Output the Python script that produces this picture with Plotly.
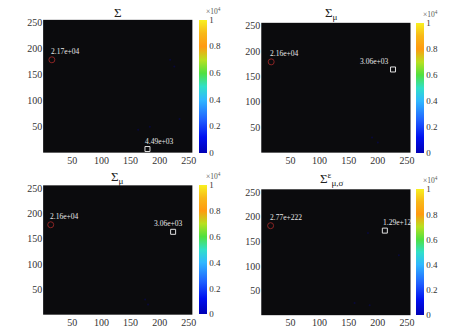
import plotly.graph_objects as go

W, H = 474, 334

titles = ["Σ", "Σ<sub>μ</sub>", "Σ<sub>μ</sub>", "Σ<sup>ε</sup><sub>μ,σ</sub>"]
# peak (red circle) positions and labels
peak_x = [15, 17, 13, 16]
peak_y = [179, 179, 178, 182]
peak_lbl = ["2.17e+04", "2.16e+04", "2.16e+04", "2.77e+222"]
# second marker (white square) positions and labels
sec_x = [179, 226, 223, 212]
sec_y = [7, 164, 164, 172]
sec_lbl = ["4.49e+03", "3.06e+03", "3.06e+03", "1.29e+12"]
# faint background points (values relative to 1e4 colour scale)
faint_x = [[218, 225, 234, 183, 163], [190, 200], [175, 180], [183, 236, 160, 186]]
faint_y = [[179, 166, 65, 50, 44], [30, 20], [30, 20], [167, 122, 25, 20]]
faint_v = [[0.02, 0.02, 0.02, 0.02, 0.02], [0.02, 0.02], [0.02, 0.02], [0.02, 0.02, 0.02, 0.02]]

tick_vals = [50, 100, 150, 200, 250]
cb_vals = [0, 0.2, 0.4, 0.6, 0.8, 1]
cb_text = ["0", "0.2", "0.4", "0.6", "0.8", "1"]

# pixel layouts: (x0, x1, y0top, y1bottom) for plot and colorbar
plots = [(43.5, 194, 17, 151), (263.5, 414, 20, 151), (43.5, 194, 184, 314.5), (263.5, 414, 188, 315)]
cbars = [(201, 17, 151), (420, 20, 151), (201, 184, 314), (420, 188, 315)]
title_pos = [(119, 10), (334, 11), (119, 176), (335, 178)]
peak_txt_shift = [(-3, -8), (-3, -8), (-3, -8), (-3, -8)]
sec_txt_anchor = ["left", "right", "center", "left"]
sec_txt_shift = [(-4, -8), (-3, -8), (-5, -8), (-4, -8)]

jet = [[0, "#0000b4"], [0.12, "#0010f0"], [0.25, "#2060ff"], [0.4, "#30b8ff"],
       [0.5, "#30e0c8"], [0.6, "#50e040"], [0.7, "#b8e020"], [0.8, "#ff9a10"],
       [0.9, "#f8b818"], [1, "#f8f020"]]

fig = go.Figure()
font = "Liberation Serif, Times New Roman, serif"
annotations = []
for i in range(4):
    xa = "x" if i == 0 else f"x{i+1}"
    ya = "y" if i == 0 else f"y{i+1}"
    px0, px1, py0, py1 = plots[i]
    cx, cy0, cy1 = cbars[i]
    fig.add_trace(go.Scatter(
        x=faint_x[i], y=faint_y[i], mode="markers", xaxis=xa, yaxis=ya,
        showlegend=False, hoverinfo="skip",
        marker=dict(size=2, color=faint_v[i], cmin=0, cmax=1, colorscale=jet, opacity=0.25,
                    showscale=True,
                    colorbar=dict(x=cx / W, xanchor="left", xpad=0, thickness=8,
                                  len=(cy1 - cy0) / H, lenmode="fraction",
                                  y=1 - cy1 / H, yanchor="bottom", ypad=0,
                                  outlinewidth=0, tickvals=cb_vals, ticktext=cb_text,
                                  ticks="", tickfont=dict(family=font, size=9, color="#333")))))
    fig.add_trace(go.Scatter(x=[peak_x[i]], y=[peak_y[i]], mode="markers",
                             marker=dict(symbol="circle-open", size=6, color="#8a2424",
                                         line=dict(width=1)),
                             xaxis=xa, yaxis=ya, showlegend=False, hoverinfo="skip"))
    fig.add_trace(go.Scatter(x=[sec_x[i]], y=[sec_y[i]], mode="markers",
                             marker=dict(symbol="square-open", size=5, color="#e0e0e0",
                                         line=dict(width=1)),
                             xaxis=xa, yaxis=ya, showlegend=False, hoverinfo="skip"))
    ax_common = dict(range=[0, 256], tickvals=tick_vals, showgrid=False, zeroline=False,
                     ticks="", showline=False,
                     tickfont=dict(family=font, size=10, color="#333"))
    fig.update_layout(**{
        ("xaxis" if i == 0 else f"xaxis{i+1}"): dict(ax_common, domain=[px0 / W, px1 / W], anchor=ya),
        ("yaxis" if i == 0 else f"yaxis{i+1}"): dict(ax_common, domain=[1 - py1 / H, 1 - py0 / H], anchor=xa),
    })
    annotations.append(dict(x=peak_x[i], y=peak_y[i], xref=xa, yref=ya, text=peak_lbl[i],
                            showarrow=False, xanchor="left", yanchor="middle",
                            xshift=peak_txt_shift[i][0], yshift=-peak_txt_shift[i][1],
                            font=dict(family=font, size=7.5, color="#e8e8e8")))
    annotations.append(dict(x=sec_x[i], y=sec_y[i], xref=xa, yref=ya, text=sec_lbl[i],
                            showarrow=False, xanchor=sec_txt_anchor[i], yanchor="middle",
                            xshift=sec_txt_shift[i][0], yshift=-sec_txt_shift[i][1],
                            font=dict(family=font, size=7.5, color="#e8e8e8")))
    tx, ty = title_pos[i]
    annotations.append(dict(x=tx / W, y=1 - ty / H, xref="paper", yref="paper", text=titles[i],
                            showarrow=False, xanchor="center", yanchor="middle",
                            font=dict(family=font, size=13, color="#222")))
    annotations.append(dict(x=(cx + 5) / W, y=1 - (cy0 - 9) / H, xref="paper", yref="paper",
                            text="×10<sup>4</sup>", showarrow=False, xanchor="left", yanchor="middle",
                            font=dict(family=font, size=7.5, color="#555")))

fig.update_layout(width=W, height=H, margin=dict(l=0, r=0, t=0, b=0),
                  paper_bgcolor="white", plot_bgcolor="#0b0b0d",
                  showlegend=False, annotations=annotations)
fig.write_html("out.html")
